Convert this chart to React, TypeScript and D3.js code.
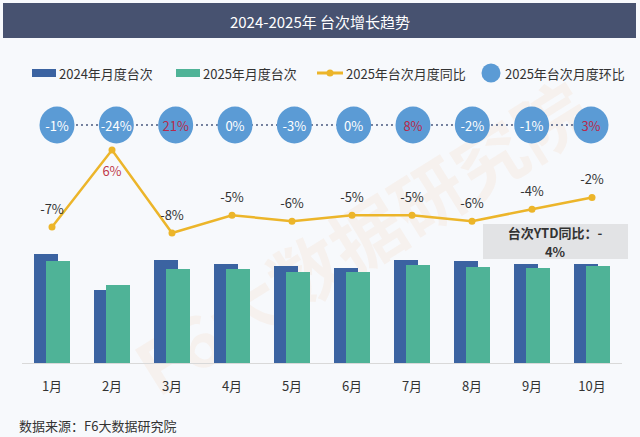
import React, { useEffect, useRef } from "react";
import * as d3 from "d3";

// 月份
const months = ["1月", "2月", "3月", "4月", "5月", "6月", "7月", "8月", "9月", "10月"];
// 2024年月度台次（相对值）
const units2024 = [109, 73, 103, 99, 97, 95, 103, 102, 99, 99];
// 2025年月度台次（相对值）
const units2025 = [102, 78, 94, 94, 91, 91, 98, 96, 95, 97];
// 2025年台次月度同比 (%)
const yoy = [-7, 6, -8, -5, -6, -5, -5, -6, -4, -2];
// 2025年台次月度环比 (%)
const mom = [-1, -24, 21, 0, -3, 0, 8, -2, -1, 3];

const legendLabels = ["2024年月度台次", "2025年月度台次", "2025年台次月度同比", "2025年台次月度环比"];
const ytdLines = ["台次YTD同比：-", "4%"];

const W = 640;
const H = 437;
const FONT = "'Noto Sans CJK SC', 'Noto Sans', sans-serif";
const C2024 = "#3b63a1";
const C2025 = "#4fb397";
const CLINE = "#ecb52a";
const CCIRCLE = "#5b9bd5";
const CRED = "#b8294c";

const App: React.FC = () => {
  const svgRef = useRef<SVGSVGElement>(null);

  useEffect(() => {
    const svg = d3.select(svgRef.current);
    svg.selectAll("*").remove();

    // 背景
    svg.append("rect").attr("width", W).attr("height", H).attr("fill", "#f7f9fc");

    // 水印
    svg
      .append("text")
      .attr("transform", "translate(360,235) rotate(-32)")
      .attr("text-anchor", "middle")
      .attr("dominant-baseline", "central")
      .attr("fill", "#f39a4a")
      .attr("fill-opacity", 0.08)
      .style("font-size", "72px")
      .style("font-weight", "bold")
      .text("F6大数据研究院");

    // 标题栏
    svg.append("rect").attr("x", 3).attr("y", 3).attr("width", 633).attr("height", 35).attr("fill", "#475270");
    svg
      .append("text")
      .attr("x", 320)
      .attr("y", 21)
      .attr("text-anchor", "middle")
      .attr("dominant-baseline", "central")
      .attr("fill", "#fff")
      .style("font-size", "15px")
      .text("2024-2025年 台次增长趋势");

    // 图例
    const lg = svg.append("g").style("font-size", "13px").attr("fill", "#333");
    lg.append("rect").attr("x", 32).attr("y", 69).attr("width", 24).attr("height", 8).attr("fill", C2024);
    lg.append("rect").attr("x", 176).attr("y", 69).attr("width", 24).attr("height", 8).attr("fill", C2025);
    lg.append("line").attr("x1", 317).attr("x2", 343).attr("y1", 73).attr("y2", 73).attr("stroke", CLINE).attr("stroke-width", 3);
    lg.append("circle").attr("cx", 330).attr("cy", 73).attr("r", 3.5).attr("fill", CLINE);
    lg.append("circle").attr("cx", 491).attr("cy", 73).attr("r", 9.5).attr("fill", CCIRCLE);
    const legendX = [59, 203, 346, 505];
    legendLabels.forEach((t, i) => {
      lg.append("text")
        .attr("x", legendX[i])
        .attr("y", 73)
        .attr("dominant-baseline", "central")
        .text(t);
    });

    // 比例尺
    const x = d3.scaleBand<string>().domain(months).range([22, 622]);
    const cx = (m: string) => (x(m) ?? 0) + x.bandwidth() / 2;
    const yBar = d3.scaleLinear().domain([0, 110]).range([363, 253]);
    const yLine = d3.scaleLinear().domain([-8, 6]).range([233, 150]);
    const xCircle = d3.scalePoint<string>().domain(months).range([57, 591]);

    // 柱子
    const barW = 24;
    svg
      .append("g")
      .selectAll("rect")
      .data(months)
      .enter()
      .append("rect")
      .attr("x", (m) => cx(m) - 18)
      .attr("y", (_, i) => yBar(units2024[i]))
      .attr("width", barW)
      .attr("height", (_, i) => yBar(0) - yBar(units2024[i]))
      .attr("fill", C2024);
    svg
      .append("g")
      .selectAll("rect")
      .data(months)
      .enter()
      .append("rect")
      .attr("x", (m) => cx(m) - 6)
      .attr("y", (_, i) => yBar(units2025[i]))
      .attr("width", barW)
      .attr("height", (_, i) => yBar(0) - yBar(units2025[i]))
      .attr("fill", C2025);

    // X 轴
    svg.append("line").attr("x1", 22).attr("x2", 622).attr("y1", 363.5).attr("y2", 363.5).attr("stroke", "#d9d9d9");
    svg
      .append("g")
      .selectAll("text")
      .data(months)
      .enter()
      .append("text")
      .attr("x", (m) => cx(m))
      .attr("y", 385)
      .attr("text-anchor", "middle")
      .attr("dominant-baseline", "central")
      .attr("fill", "#333")
      .style("font-size", "13px")
      .text((m) => m);

    // 同比折线
    const line = d3
      .line<number>()
      .x((_, i) => cx(months[i]))
      .y((v) => yLine(v));
    svg.append("path").datum(yoy).attr("d", line).attr("fill", "none").attr("stroke", CLINE).attr("stroke-width", 2.5);
    svg
      .append("g")
      .selectAll("circle")
      .data(yoy)
      .enter()
      .append("circle")
      .attr("cx", (_, i) => cx(months[i]))
      .attr("cy", (v) => yLine(v))
      .attr("r", 3.5)
      .attr("fill", CLINE);
    svg
      .append("g")
      .selectAll("text")
      .data(yoy)
      .enter()
      .append("text")
      .attr("x", (_, i) => cx(months[i]))
      .attr("y", (v) => yLine(v) + (v > 0 ? 20 : -19))
      .attr("text-anchor", "middle")
      .attr("dominant-baseline", "central")
      .attr("fill", (v) => (v > 0 ? "#c0394b" : "#333"))
      .style("font-size", "13px")
      .text((v) => `${v}%`);

    // 环比圆圈
    svg
      .append("line")
      .attr("x1", xCircle(months[0]) ?? 0)
      .attr("x2", xCircle(months[months.length - 1]) ?? 0)
      .attr("y1", 125)
      .attr("y2", 125)
      .attr("stroke", "#4a5a80")
      .attr("stroke-width", 2)
      .attr("stroke-dasharray", "0 5")
      .attr("stroke-linecap", "round");
    const cg = svg.append("g").selectAll("g").data(mom).enter().append("g");
    cg.append("ellipse")
      .attr("cx", (_, i) => xCircle(months[i]) ?? 0)
      .attr("cy", 125)
      .attr("rx", 17.5)
      .attr("ry", 18.5)
      .attr("fill", CCIRCLE);
    cg.append("text")
      .attr("x", (_, i) => xCircle(months[i]) ?? 0)
      .attr("y", 125)
      .attr("text-anchor", "middle")
      .attr("dominant-baseline", "central")
      .attr("fill", (v) => (v > 0 ? CRED : "#fff"))
      .style("font-size", "13px")
      .text((v) => `${v}%`);

    // YTD 同比
    svg.append("rect").attr("x", 483).attr("y", 224).attr("width", 145).attr("height", 35).attr("fill", "#e2e3e5");
    ytdLines.forEach((t, i) => {
      svg
        .append("text")
        .attr("x", 555)
        .attr("y", 232 + i * 19.5)
        .attr("text-anchor", "middle")
        .attr("dominant-baseline", "central")
        .attr("fill", "#333")
        .style("font-size", "13px")
        .style("font-weight", "bold")
        .text(t);
    });

    // 数据来源
    svg
      .append("text")
      .attr("x", 19)
      .attr("y", 425)
      .attr("dominant-baseline", "central")
      .attr("fill", "#333")
      .style("font-size", "13px")
      .text("数据来源：F6大数据研究院");
  }, []);

  return (
    <svg
      ref={svgRef}
      width={W}
      height={H}
      style={{ position: "absolute", left: 0, top: 0, display: "block", fontFamily: FONT }}
    ></svg>
  );
};

export default App;
